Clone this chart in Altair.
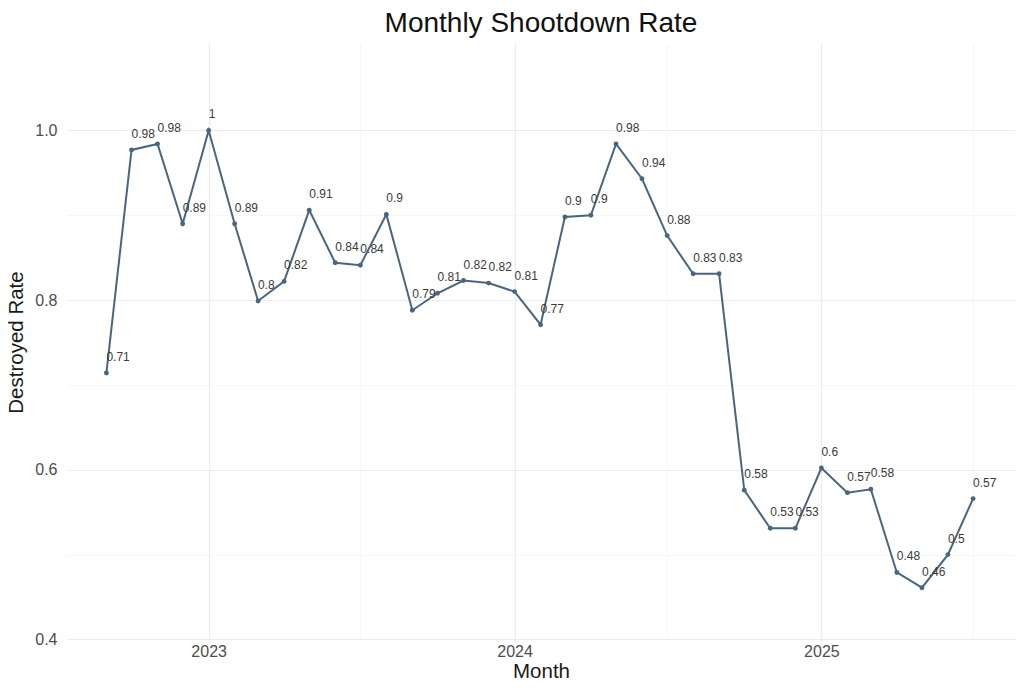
import altair as alt
import pandas as pd

months = [
    "2022-09-01", "2022-10-01", "2022-11-01", "2022-12-01",
    "2023-01-01", "2023-02-01", "2023-03-01", "2023-04-01", "2023-05-01", "2023-06-01",
    "2023-07-01", "2023-08-01", "2023-09-01", "2023-10-01", "2023-11-01", "2023-12-01",
    "2024-01-01", "2024-02-01", "2024-03-01", "2024-04-01", "2024-05-01", "2024-06-01",
    "2024-07-01", "2024-08-01", "2024-09-01", "2024-10-01", "2024-11-01", "2024-12-01",
    "2025-01-01", "2025-02-01", "2025-03-01", "2025-04-01", "2025-05-01", "2025-06-01",
    "2025-07-01",
]
rates = [
    0.714, 0.977, 0.984, 0.890,
    1.000, 0.890, 0.799, 0.822, 0.906, 0.844,
    0.841, 0.901, 0.788, 0.808, 0.823, 0.820,
    0.810, 0.771, 0.898, 0.900, 0.984, 0.943,
    0.876, 0.831, 0.831, 0.576, 0.531, 0.531,
    0.602, 0.573, 0.577, 0.479, 0.461, 0.500,
    0.566,
]
y_ticks = [0.4, 0.5, 0.6, 0.7, 0.8, 0.9, 1.0]
x_ticks = [(2023, 1), (2023, 7), (2024, 1), (2024, 7), (2025, 1), (2025, 7)]

df = pd.DataFrame({"Month": months, "rate": rates})

LINE = "#4b667c"
FONT = "Liberation Sans"

x_enc = alt.X(
    "Month:T",
    scale=alt.Scale(
        type="utc",
        domain=[alt.DateTime(year=2022, month=7, date=16, utc=True),
                alt.DateTime(year=2025, month=8, date=20, utc=True)],
    ),
    axis=alt.Axis(
        title="Month",
        values=[alt.DateTime(year=y, month=m, date=1, utc=True) for y, m in x_ticks],
        labelExpr="utcmonth(datum.value) == 0 ? utcFormat(datum.value, '%Y') : ''",
        gridColor={"condition": {"test": "utcmonth(datum.value) == 0", "value": "#ebebeb"}, "value": "#f4f4f4"},
        gridWidth={"condition": {"test": "utcmonth(datum.value) == 0", "value": 1.2}, "value": 0.8},
        labelPadding=1,
        titleY=35,
        titleBaseline="alphabetic",
    ),
)
y_enc = alt.Y(
    "rate:Q",
    scale=alt.Scale(domain=[0.397, 1.103], nice=False, zero=False),
    axis=alt.Axis(
        title="Destroyed Rate",
        values=y_ticks,
        labelExpr="round(datum.value * 10) % 2 == 0 ? format(datum.value, '.1f') : ''",
        gridColor={"condition": {"test": "round(datum.value * 10) % 2 == 0", "value": "#ebebeb"}, "value": "#f4f4f4"},
        gridWidth={"condition": {"test": "round(datum.value * 10) % 2 == 0", "value": 1.2}, "value": 0.8},
        labelPadding=10,
        titleX=-45,
        titleY=299,
        titleBaseline="alphabetic",
    ),
)

base = alt.Chart(df).encode(x=x_enc, y=y_enc)

line = base.mark_line(color=LINE, strokeWidth=2)
pts = base.mark_point(filled=True, color=LINE, size=24, opacity=1)
labels = base.mark_text(
    align="left", baseline="middle", dx=0, dy=-16, fontSize=12, font=FONT, color="#3a3a3a"
).encode(text=alt.Text("rate:Q", format=".2~f"))

chart = (
    alt.layer(line, pts, labels)
    .properties(
        width=948,
        height=599,
        title=alt.TitleParams(
            "Monthly Shootdown Rate",
            anchor="middle",
            fontSize=28,
            font=FONT,
            fontWeight="normal",
            color="#111111",
            offset=5,
        ),
        autosize=alt.AutoSizeParams(type="none"),
        padding={"left": 59, "top": 35, "right": 5, "bottom": 40},
    )
    .configure_view(stroke=None)
    .configure_axis(
        domain=False,
        ticks=False,
        labelFont=FONT,
        labelFontSize=16,
        labelColor="#4d4d4d",
        titleFont=FONT,
        titleFontSize=20.5,
        titleFontWeight="normal",
        titleColor="#1a1a1a",
    )
)

chart.save("out.html", embed_options={"renderer": "svg", "actions": False})
